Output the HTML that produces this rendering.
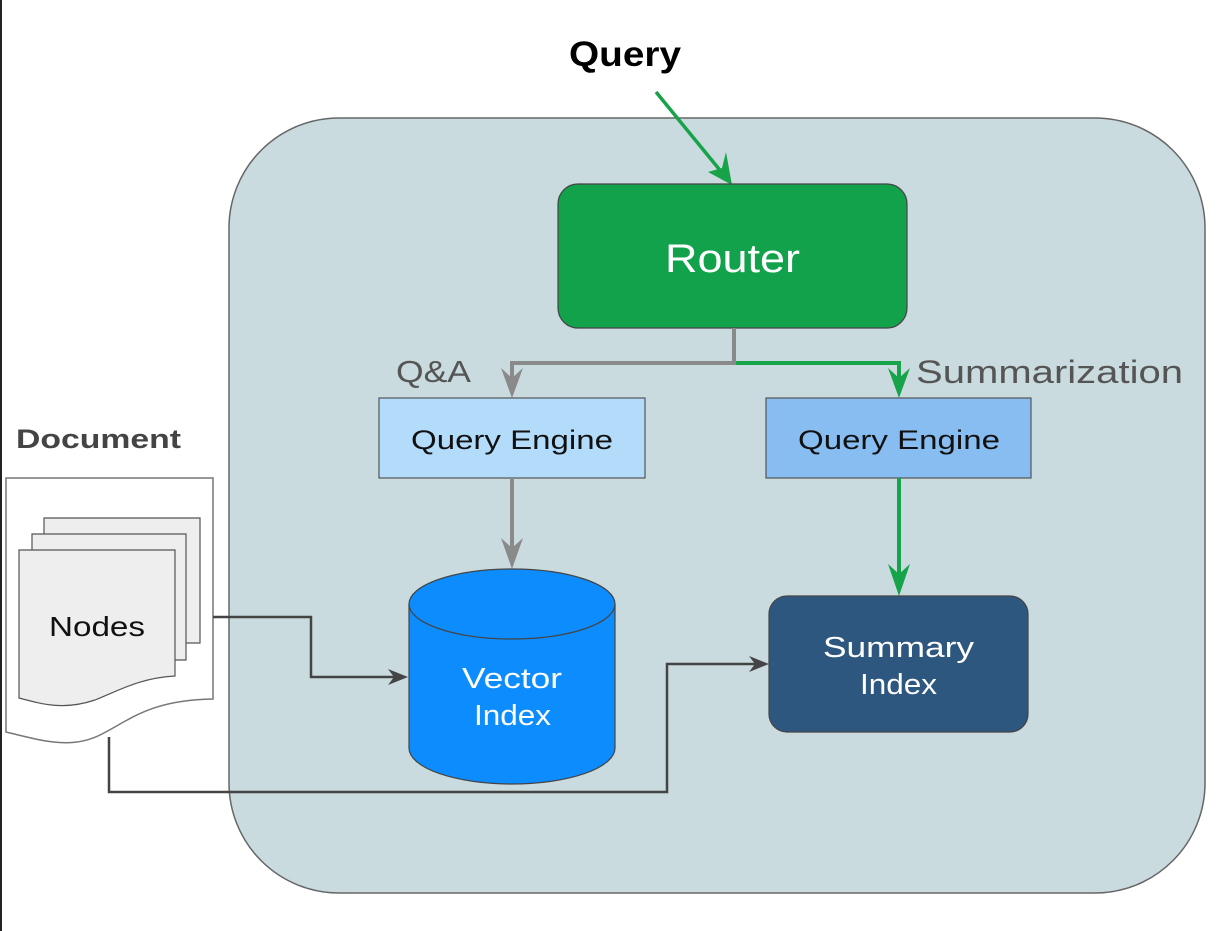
<!DOCTYPE html>
<html><head><meta charset="utf-8"><style>
html,body{margin:0;padding:0;background:#fff;}
svg{display:block;}
text{font-family:"Liberation Sans",sans-serif;}
</style></head><body>
<svg width="1229" height="931" viewBox="0 0 1229 931" xmlns="http://www.w3.org/2000/svg">
<rect x="0" y="0" width="2" height="931" fill="#222"/>
<rect x="229" y="118" width="976" height="775" rx="110" fill="#c9dbde" stroke="#666" stroke-width="1.5"/>
<text x="569" y="66" font-size="35" font-weight="bold" fill="#000" textLength="112" lengthAdjust="spacingAndGlyphs">Query</text>
<line x1="656" y1="92" x2="728" y2="180" stroke="#16a34a" stroke-width="3.5"/>
<path d="M732,185 L708,172 L722,168 L726,152 Z" fill="#16a34a"/>
<rect x="558" y="184" width="349" height="144" rx="20" fill="#12a24b" stroke="#444" stroke-width="1.2"/>
<text x="665" y="272" font-size="40" fill="#fff" textLength="135" lengthAdjust="spacingAndGlyphs">Router</text>
<path d="M734,328 V363 H512 V392" fill="none" stroke="#8a8a8a" stroke-width="4"/>
<path d="M512,398 L501,368 L512,378 L523,368 Z" fill="#8a8a8a"/>
<path d="M736,363 H899 V392" fill="none" stroke="#16a34a" stroke-width="4"/>
<path d="M899,398 L888,368 L899,378 L910,368 Z" fill="#16a34a"/>
<text x="396" y="382" font-size="31" fill="#555" textLength="75" lengthAdjust="spacingAndGlyphs">Q&amp;A</text>
<text x="916" y="383" font-size="32" fill="#555" textLength="267" lengthAdjust="spacingAndGlyphs">Summarization</text>
<rect x="379" y="398" width="266" height="80" fill="#b3dcfb" stroke="#555" stroke-width="1.2"/>
<text x="411" y="449" font-size="27" fill="#111" textLength="202" lengthAdjust="spacingAndGlyphs">Query Engine</text>
<rect x="766" y="398" width="265" height="80" fill="#87bdf0" stroke="#555" stroke-width="1.2"/>
<text x="798" y="449" font-size="27" fill="#111" textLength="202" lengthAdjust="spacingAndGlyphs">Query Engine</text>
<line x1="512" y1="478" x2="512" y2="562" stroke="#8a8a8a" stroke-width="4"/>
<path d="M512,569 L501,538 L512,548 L523,538 Z" fill="#8a8a8a"/>
<line x1="899" y1="478" x2="899" y2="588" stroke="#16a34a" stroke-width="4"/>
<path d="M899,596 L888,564 L899,574 L910,564 Z" fill="#16a34a"/>
<path d="M409,604 V748 A103,36 0 0 0 615,748 V604" fill="#0d8cfd" stroke="#444" stroke-width="1.2"/>
<ellipse cx="512" cy="604" rx="103" ry="35" fill="#0d8cfd" stroke="#444" stroke-width="1.2"/>
<text x="462" y="688" font-size="29" fill="#fff" textLength="100" lengthAdjust="spacingAndGlyphs">Vector</text>
<text x="474" y="725" font-size="29" fill="#fff" textLength="77" lengthAdjust="spacingAndGlyphs">Index</text>
<rect x="769" y="596" width="259" height="136" rx="18" fill="#2e5780" stroke="#444" stroke-width="1.2"/>
<text x="823" y="657" font-size="29" fill="#fff" textLength="151" lengthAdjust="spacingAndGlyphs">Summary</text>
<text x="860" y="694" font-size="29" fill="#fff" textLength="77" lengthAdjust="spacingAndGlyphs">Index</text>
<text x="16" y="448" font-size="27" font-weight="bold" fill="#444" textLength="165" lengthAdjust="spacingAndGlyphs">Document</text>
<path d="M6,478 H213 V699 C150,700 130,720 100,735 C70,750 40,740 6,732 Z" fill="#fff" stroke="#777" stroke-width="1.5"/>
<path d="M44,518 H200 V643 H44 Z" fill="#eee" stroke="#555" stroke-width="1.2"/>
<path d="M32,534 H186 V660 H32 Z" fill="#eee" stroke="#555" stroke-width="1.2"/>
<path d="M19,550 H175 V676 C140,678 120,690 95,700 C65,710 45,705 19,698 Z" fill="#eee" stroke="#555" stroke-width="1.2"/>
<text x="49" y="636" font-size="28" fill="#111" textLength="96" lengthAdjust="spacingAndGlyphs">Nodes</text>
<path d="M213,617 H311 V677 H400" fill="none" stroke="#444" stroke-width="2.5"/>
<path d="M408,677 L388,669 L394,677 L388,685 Z" fill="#444"/>
<path d="M109,737 V792 H667 V664 H760" fill="none" stroke="#444" stroke-width="2.5"/>
<path d="M769,664 L749,656 L755,664 L749,672 Z" fill="#444"/>
</svg>
</body></html>
